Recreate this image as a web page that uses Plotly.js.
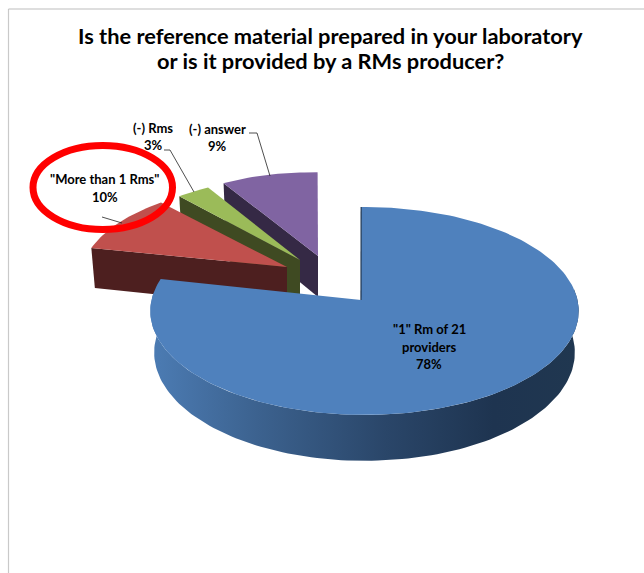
<!DOCTYPE html>
<html><head><meta charset="utf-8">
<script src="https://cdn.plot.ly/plotly-3.0.1.min.js"></script>
<style>html,body{margin:0;padding:0;background:#fff}#c{width:644px;height:573px}</style>
</head><body><div id="c"></div>
<script>
// data
const categories = ['"1" Rm of 21 providers', '"More than 1 Rms"', '(-) Rms', '(-) answer'];
const percents = [78, 10, 3, 9];
const titleLines = ['Is the reference material prepared in your laboratory', 'or is it provided by a RMs producer?'];

// styles
const topColors = ['#4f81bd', '#c0504d', '#9bbb59', '#8064a2'];
const wallColors = ['#1f3650', '#4d1f1f', '#3f4a22', '#352945'];

// 3D projection of the exploded pie, in pixel-sized axis units
const R = 213, RS = 102.8, PERSP = 0.1058, DEPTH = 41, START = -1, ANGLE_SCALE = 1.008, TAPER = 0.018;
// each slice: apex position, arc origin, and foreshortening of the exploded slices
const placement = [
  {ax: 361, ay: 300, ox: 364.5, oy: 300, sx: 1, sy: 1},
  {ax: 287, ay: 267, ox: 287, oy: 267, sx: 0.96, sy: 0.905},
  {ax: 300, ay: 260, ox: 300, oy: 260, sx: 0.92, sy: 0.895},
  {ax: 318, ay: 256, ox: 312, oy: 256, sx: 0.885, sy: 0.9}
];
function project(deg, p, drop) {
  const t = deg * Math.PI / 180, X = Math.sin(t), Z = Math.cos(t), f = 1 / (1 + PERSP * Z);
  const d = drop || 0, shrink = 1 - TAPER * d / DEPTH;
  return [p.ox + shrink * p.sx * R * X * f, p.oy - p.sy * RS * Z * f + d * f];
}
function poly(pts, color, extra) {
  return Object.assign({type: 'scatter', mode: 'lines', x: pts.map(q => q[0]), y: pts.map(q => q[1]),
    fill: 'toself', fillcolor: color, line: {width: 0, color: color}, hoverinfo: 'skip', showlegend: false}, extra || {});
}
function arc(a0, a1, p, drop) {
  const n = Math.max(4, Math.ceil(Math.abs(a1 - a0) / 1.5)), out = [];
  for (let i = 0; i <= n; i++) out.push(project(a0 + (a1 - a0) * i / n, p, drop));
  return out;
}
const total = percents.reduce((a, b) => a + b, 0);
let cur = START;
const spans = percents.map(v => { const s = [cur, cur + v / total * 360 * ANGLE_SCALE]; cur = s[1]; return s; });

const traces = [];
[3, 2, 1].forEach(i => {
  const p = placement[i], s = spans[i], e = project(s[0], p);
  const eLow = project(s[0], p, DEPTH);
  traces.push(poly([[p.ax, p.ay], e, eLow, [p.ax, p.ay + DEPTH]], wallColors[i]));
  traces.push(poly([[p.ax, p.ay]].concat(arc(s[0], s[1], p)), topColors[i]));
});
// blue slice: gradient wall, top face
{
  const p = placement[0], s = spans[0];
  const upper = arc(84, 274, p), lower = arc(84, 274, p, DEPTH).reverse();
  traces.push(poly(upper.concat(lower), wallColors[0], {
    fillgradient: {type: 'horizontal', start: 150, stop: 579,
      colorscale: [[0, '#4c7cb4'], [0.25, '#3c628f'], [0.55, '#2a4669'], [0.8, '#1e3450'], [1, '#203750']]}
  }));
  traces.push(poly([[p.ax, p.ay]].concat(arc(s[0], s[1], p)), topColors[0]));
  const rimTop = project(s[0], p);
  traces.push({type: 'scatter', mode: 'lines', x: [rimTop[0], p.ax], y: [rimTop[1], p.ay],
    line: {color: wallColors[0], width: 1.2}, hoverinfo: 'skip', showlegend: false});
}
// leader lines
const leaders = [
  {x: [249, 257, 270], y: [133, 133, 176]},
  {x: [164, 170, 194], y: [150, 150, 192]},
  {x: [102, 122], y: [217, 223]}
];
leaders.forEach(l => traces.push({type: 'scatter', mode: 'lines', x: l.x, y: l.y,
  line: {color: '#222', width: 0.8}, hoverinfo: 'skip', showlegend: false}));

const labelFont = {family: 'Lato, "Open Sans", sans-serif', size: 13, color: '#000'};
const label = (t, x, y) => ({text: '<b>' + t + '</b>', x, y, xref: 'x', yref: 'y', showarrow: false, font: labelFont, xanchor: 'center', yanchor: 'middle'});
const titleFont = {family: 'Lato, sans-serif', size: 21.8, color: '#000'};
const annotations = [
  label(categories[2], 153, 128), label(percents[2] + '%', 153, 145),
  label(categories[3], 217, 129), label(percents[3] + '%', 217, 146),
  label(categories[1], 104.5, 179), label(percents[1] + '%', 104.5, 197),
  label('"1" Rm of 21', 429, 329), label('providers', 429, 347), label(percents[0] + '%', 429, 364),
  {text: '<b>' + titleLines[0] + '</b>', x: 330.5, y: 35, xref: 'x', yref: 'y', showarrow: false, xanchor: 'center', yanchor: 'middle', font: titleFont},
  {text: '<b>' + titleLines[1] + '</b>', x: 330.5, y: 60, xref: 'x', yref: 'y', showarrow: false, xanchor: 'center', yanchor: 'middle', font: titleFont}
];
const shapes = [
  {type: 'line', xref: 'x', yref: 'y', x0: 8.5, x1: 8.5, y0: 9, y1: 573, line: {color: '#c9c9c9', width: 1.2}},
  {type: 'line', xref: 'x', yref: 'y', x0: 8.5, x1: 644, y0: 9, y1: 9, line: {color: '#bdbdbd', width: 1}},
  {type: 'circle', xref: 'x', yref: 'y', x0: 33, x1: 172.5, y0: 145.5, y1: 229.5, line: {color: '#ff0000', width: 7}, fillcolor: 'rgba(0,0,0,0)', layer: 'above'}
];
Plotly.newPlot('c', traces, {
  width: 644, height: 573, margin: {l: 0, r: 0, t: 0, b: 0}, paper_bgcolor: '#fff', plot_bgcolor: '#fff',
  xaxis: {range: [0, 644], visible: false, fixedrange: true},
  yaxis: {range: [573, 0], visible: false, fixedrange: true},
  showlegend: false, annotations, shapes
}, {displayModeBar: false, staticPlot: true});
</script></body></html>
